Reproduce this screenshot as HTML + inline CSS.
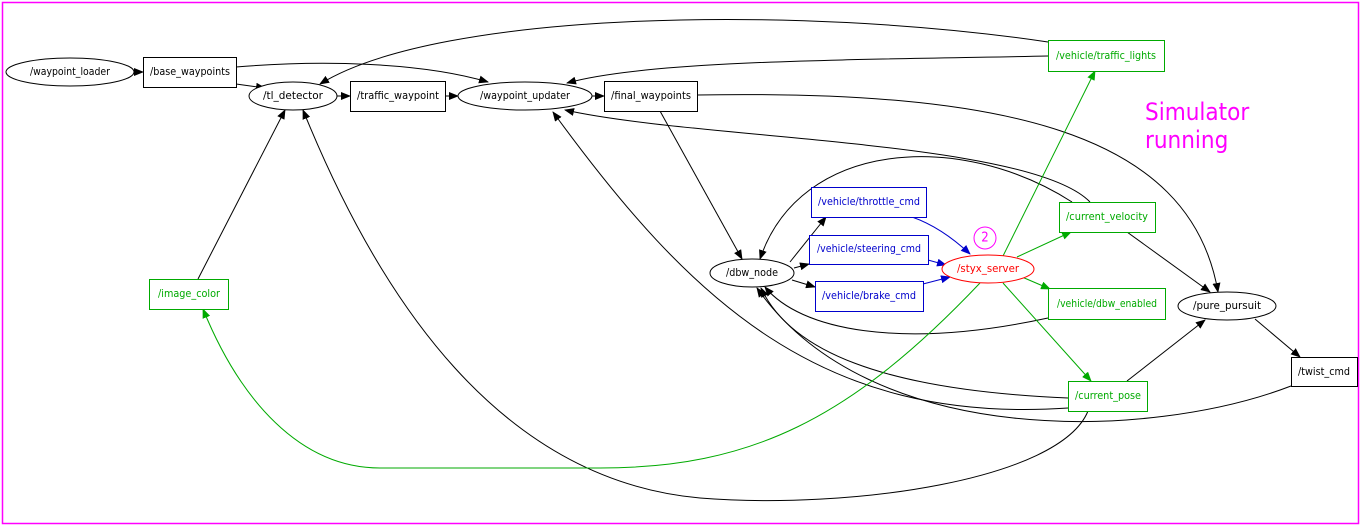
<!DOCTYPE html>
<html><head><meta charset="utf-8"><style>
html,body{margin:0;padding:0;background:#fff;}
svg{display:block;font-family:"DejaVu Sans Condensed","DejaVu Sans","Liberation Sans Narrow","Liberation Sans",sans-serif;}
text{font-size:10.5px;font-stretch:condensed;text-anchor:middle;dominant-baseline:central;}
</style></head><body>
<svg width="1363" height="527" viewBox="0 0 1363 527" xmlns="http://www.w3.org/2000/svg">
<defs>
<marker id="ab" markerWidth="10" markerHeight="8" refX="9" refY="4" orient="auto" markerUnits="userSpaceOnUse"><path d="M0,0 L10,4 L0,8z" fill="#000"/></marker>
<marker id="ag" markerWidth="10" markerHeight="8" refX="9" refY="4" orient="auto" markerUnits="userSpaceOnUse"><path d="M0,0 L10,4 L0,8z" fill="#0a0"/></marker>
<marker id="au" markerWidth="10" markerHeight="8" refX="9" refY="4" orient="auto" markerUnits="userSpaceOnUse"><path d="M0,0 L10,4 L0,8z" fill="#00c"/></marker>
</defs>
<rect x="2.5" y="2.5" width="1356" height="521" fill="none" stroke="#f0f" stroke-width="1.5"/>
<g fill="none" stroke="#000" stroke-width="1" marker-end="url(#ab)">
<path d="M134,72 L143,72"/>
<path d="M236,84 L265,88"/>
<path d="M236,67 C320,60 420,62 488,82"/>
<path d="M337,96 L350,96"/>
<path d="M445,96 L458,96"/>
<path d="M592,96 L604,96"/>
<path d="M1048,42 C800,5 440,10 320,84"/>
<path d="M1048,56 C850,60 650,60 567,83"/>
<path d="M660,111 L742,259"/>
<path d="M697,95 C1000,90 1190,130 1218,292"/>
<path d="M1090,202 C1030,140 700,140 565,110"/>
<path d="M1072,202 C960,130 800,140 760,259"/>
<path d="M1127,232 L1210,292"/>
<path d="M790,262 L826,217"/>
<path d="M794,268 L809,264"/>
<path d="M792,280 L815,287"/>
<path d="M1048,318 C900,350 800,330 765,287"/>
<path d="M1068,398 C880,390 790,350 761,288"/>
<path d="M1068,408 C820,425 690,300 553,112"/>
<path d="M1291,386 C1150,440 870,450 757,288"/>
<path d="M1127,381 L1205,320"/>
<path d="M1255,319 L1300,357"/>
<path d="M1088,411 C1060,480 850,510 700,498 C500,480 380,300 303,110"/>
<path d="M198,279 L285,110"/>
</g>
<g fill="none" stroke="#00c" stroke-width="1" marker-end="url(#au)">
<path d="M912,217 C935,225 955,240 970,254"/>
<path d="M928,260 L946,265"/>
<path d="M923,284 L950,277"/>
</g>
<g fill="none" stroke="#0a0" stroke-width="1" marker-end="url(#ag)">
<path d="M1003,256 L1095,71"/>
<path d="M1017,257 L1071,232"/>
<path d="M1022,277 L1050,289"/>
<path d="M1003,283 L1091,381"/>
<path d="M980,283 C850,420 750,468 600,468 L380,468 C300,468 240,400 203,309"/>
</g>
<g fill="#fff" stroke="#000">
<ellipse cx="70" cy="72" rx="64" ry="14"/>
<rect x="143.5" y="57.5" width="93" height="30"/>
<ellipse cx="293" cy="96" rx="44" ry="14"/>
<rect x="350.5" y="81.5" width="95" height="30"/>
<ellipse cx="525" cy="96" rx="67" ry="14"/>
<rect x="604.5" y="81.5" width="93" height="30"/>
<ellipse cx="752" cy="273" rx="42" ry="14"/>
<ellipse cx="1227" cy="306" rx="49" ry="14"/>
<rect x="1291.5" y="357.5" width="66" height="29"/>
</g>
<g fill="#fff" stroke="#0a0">
<rect x="1048.5" y="40.5" width="116" height="31"/>
<rect x="1059.5" y="202.5" width="96" height="30"/>
<rect x="1048.5" y="288.5" width="117" height="31"/>
<rect x="1068.5" y="381.5" width="79" height="30"/>
<rect x="149.5" y="279.5" width="79" height="30"/>
</g>
<g fill="#fff" stroke="#00c">
<rect x="811.5" y="187.5" width="115" height="30"/>
<rect x="809.5" y="235.5" width="119" height="29"/>
<rect x="815.5" y="281.5" width="108" height="30"/>
</g>
<ellipse cx="988" cy="269" rx="46" ry="14" fill="#fff" stroke="#f00"/>
<circle cx="985" cy="238" r="11" fill="none" stroke="#f0f"/>
<text x="985" y="238" fill="#f0f" style="font-size:13px">2</text>
<g fill="#000">
<text x="70" y="72" textLength="80" lengthAdjust="spacingAndGlyphs">/waypoint_loader</text>
<text x="190" y="72" textLength="80" lengthAdjust="spacingAndGlyphs">/base_waypoints</text>
<text x="293" y="96" textLength="60" lengthAdjust="spacingAndGlyphs">/tl_detector</text>
<text x="398" y="96" textLength="82" lengthAdjust="spacingAndGlyphs">/traffic_waypoint</text>
<text x="525" y="96" textLength="90" lengthAdjust="spacingAndGlyphs">/waypoint_updater</text>
<text x="651" y="96" textLength="80" lengthAdjust="spacingAndGlyphs">/final_waypoints</text>
<text x="752" y="273" textLength="52" lengthAdjust="spacingAndGlyphs">/dbw_node</text>
<text x="1227" y="306" textLength="68" lengthAdjust="spacingAndGlyphs">/pure_pursuit</text>
<text x="1324" y="372" textLength="52" lengthAdjust="spacingAndGlyphs">/twist_cmd</text>
</g>
<g fill="#0a0">
<text x="1106" y="56" textLength="100" lengthAdjust="spacingAndGlyphs">/vehicle/traffic_lights</text>
<text x="1107" y="217" textLength="82" lengthAdjust="spacingAndGlyphs">/current_velocity</text>
<text x="1107" y="304" textLength="100" lengthAdjust="spacingAndGlyphs">/vehicle/dbw_enabled</text>
<text x="1108" y="396" textLength="66" lengthAdjust="spacingAndGlyphs">/current_pose</text>
<text x="189" y="294" textLength="62" lengthAdjust="spacingAndGlyphs">/image_color</text>
</g>
<g fill="#00c">
<text x="869" y="202" textLength="102" lengthAdjust="spacingAndGlyphs">/vehicle/throttle_cmd</text>
<text x="869" y="249" textLength="104" lengthAdjust="spacingAndGlyphs">/vehicle/steering_cmd</text>
<text x="869" y="296" textLength="94" lengthAdjust="spacingAndGlyphs">/vehicle/brake_cmd</text>
</g>
<text x="988" y="269" fill="#f00" textLength="62" lengthAdjust="spacingAndGlyphs">/styx_server</text>
<text x="1145" y="112" fill="#f0f" style="font-size:24px;text-anchor:start;font-stretch:normal">Simulator</text>
<text x="1145" y="140" fill="#f0f" style="font-size:24px;text-anchor:start;font-stretch:normal">running</text>
</svg>
</body></html>
